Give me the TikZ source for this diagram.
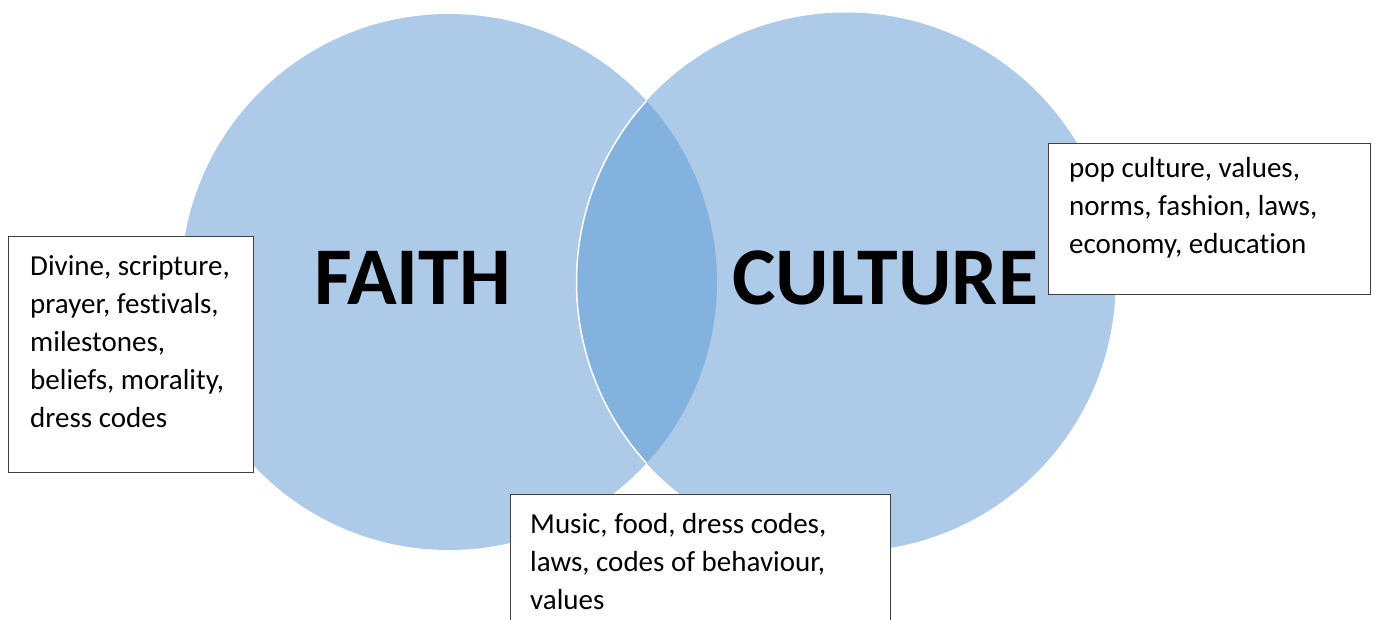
\documentclass[tikz,border=0pt]{standalone}
\usepackage{fontspec}
\setmainfont{Carlito}[Ligatures={NoCommon}]
\definecolor{circ}{RGB}{173,203,233}
\definecolor{lens}{RGB}{132,178,222}
\definecolor{frame}{RGB}{64,64,64}
\tikzset{
  setcircle/.style={fill=circ, draw=none},
  boxframe/.style={draw=frame, line width=1.2pt, fill=white, rectangle, inner sep=0pt, anchor=north west},
  boxtext/.style={anchor=base west, inner sep=0pt, font=\fontsize{29}{38.2}\selectfont},
  bigword/.style={anchor=base west, inner sep=0pt, font=\fontsize{82}{90}\selectfont\bfseries}
}
\begin{document}
\begin{tikzpicture}[x=1pt,y=-1pt]
\useasboundingbox (0,0) rectangle (1375,619);
% circles
\coordinate (cl) at (449,282);
\coordinate (cr) at (846,282);
\fill[setcircle] (cl) circle (268);
\fill[setcircle] (cr) circle (269.5);
\begin{scope}
  \clip (cl) circle (268);
  \fill[lens] (cr) circle (269.5);
  \draw[white, line width=1.5pt] (cr) circle (269.5);
\end{scope}
% labels
\node[bigword] (faith) at (314,304) {FAITH};
\node[bigword] (culture) at (732,304) {CULTURE};
% boxes
\node[boxframe, minimum width=245, minimum height=236] (lbox) at (8,236) {};
\node[boxtext] (ltext) at (30,275) {\parbox[t]{230pt}{\raggedright Divine, scripture,\\prayer, festivals,\\milestones,\\beliefs, morality,\\dress codes}};
\node[boxframe, minimum width=322, minimum height=151] (rbox) at (1048,143) {};
\node[boxtext] (rtext) at (1069,177) {\parbox[t]{300pt}{\raggedright pop culture, values,\\norms, fashion, laws,\\economy, education}};
\node[boxframe, minimum width=380, minimum height=140] (bbox) at (510,494) {};
\node[boxtext] (btext) at (530,533) {\parbox[t]{350pt}{\raggedright Music, food, dress codes,\\laws, codes of behaviour,\\values}};
\end{tikzpicture}
\end{document}
